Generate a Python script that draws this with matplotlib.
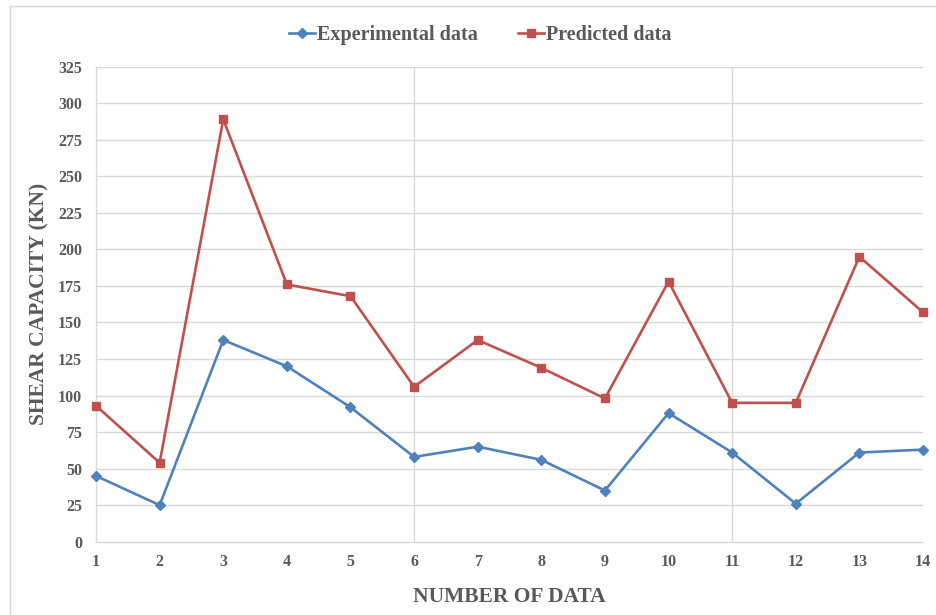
from matplotlib import pyplot as plt
from matplotlib.lines import Line2D
import numpy as np

# data
data_no = list(range(1, 15))
experimental = [45, 25, 138, 120, 92, 58, 65, 56, 35, 88, 61, 26, 61, 63]
predicted = [93, 54, 289, 176, 168, 106, 138, 119, 98, 178, 95, 95, 195, 157]
y_ticks = list(range(0, 326, 25))

text_col = '#595959'
grid_col = '#d9d9d9'
blue = '#4F81BD'
red = '#C0504D'

plt.rcParams['font.family'] = ['Liberation Serif', 'DejaVu Serif']
plt.rcParams['font.weight'] = 'bold'

fig = plt.figure(figsize=(9.36, 6.15), dpi=100)
ax = fig.add_axes([0.1026, 0.1192, 0.8835, 0.7723])

ax.plot(data_no, experimental, color=blue, lw=1.9, marker='D', ms=5,
        label='Experimental data', clip_on=False, zorder=3)
ax.plot(data_no, predicted, color=red, lw=1.9, marker='s', ms=5.5,
        label='Predicted data', clip_on=False, zorder=3)

ax.set_xlim(1, 14)
ax.set_ylim(0, 325)
ax.set_xticks(data_no)
ax.set_yticks(y_ticks)

# horizontal grid every 25, vertical lines only at 6 and 11
for v in y_ticks[1:]:
    ax.axhline(v, color=grid_col, lw=1, zorder=1)
for v in [6, 11]:
    ax.axvline(v, color=grid_col, lw=1, zorder=1)

for s in ['top', 'right']:
    ax.spines[s].set_visible(False)
for s in ['left', 'bottom']:
    ax.spines[s].set_color(grid_col)
    ax.spines[s].set_linewidth(1)

ax.tick_params(axis='both', length=0, labelsize=11.5, labelcolor=text_col)
ax.tick_params(axis='x', pad=9)
ax.tick_params(axis='y', pad=10)

ax.set_xlabel('NUMBER OF DATA', fontsize=15.5, color=text_col, fontweight='bold')
ax.set_ylabel('SHEAR CAPACITY (KN)', fontsize=15.5, color=text_col, fontweight='bold')
ax.xaxis.set_label_coords(0.5, -0.095)
ax.yaxis.set_label_coords(-0.056, 0.5)

fig.legend(loc='center', bbox_to_anchor=(0.513, 0.943), ncol=2, frameon=False,
           fontsize=14.5, labelcolor=text_col, handlelength=1.3, handletextpad=0.1,
           columnspacing=2.0, borderaxespad=0)

# outer chart frame
fig.add_artist(Line2D([0.0107, 0.0107], [0, 0.990], color=grid_col, lw=1,
                      transform=fig.transFigure))
fig.add_artist(Line2D([0.0107, 1.0], [0.990, 0.990], color=grid_col, lw=1,
                      transform=fig.transFigure))

fig.savefig('out.png', dpi=100)
